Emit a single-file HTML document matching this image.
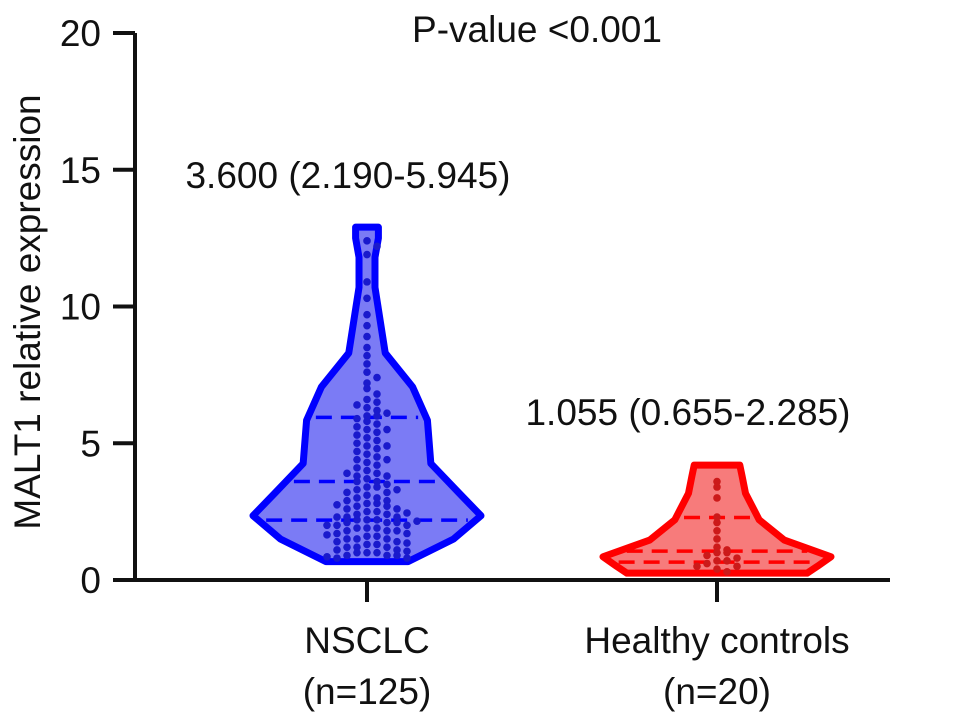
<!DOCTYPE html>
<html><head><meta charset="utf-8"><style>
body{margin:0;background:#fff}
svg text{font-family:"Liberation Sans",sans-serif;fill:#111}
</style></head><body>
<svg id="c" width="969" height="721" viewBox="0 0 969 721">
<g id="axes"></g><g id="plot"></g>
</svg>
<script>
const groups=["NSCLC","Healthy controls"];
const groupN=["(n=125)","(n=20)"];
const yTicks=[0,5,10,15,20];
const annotations=["3.600 (2.190-5.945)","1.055 (0.655-2.285)"];
const medians=[3.6,1.055];
const q1s=[2.19,0.655];
const q3s=[5.945,2.285];
// violin density profiles (value, relative half-width)
const blueLevels=[0.67,1.5,2.35,3.17,4.26,5.84,7.06,8.3,10.7,11.8,12.5,12.9];
const blueDensity=[0.36,0.76,1.0,0.81,0.56,0.53,0.40,0.16,0.07,0.07,0.10,0.10];
const redLevels=[0.25,0.5,0.85,1.46,2.2,3.17,3.8,4.2];
const redDensity=[0.79,0.88,1.0,0.59,0.37,0.25,0.22,0.20];
const blueValues=[12.4,12.2,11.9,10.9,10.3,9.7,9.3,8.9,8.5,8.2,7.9,7.6,7.4,7.2,7.0,6.8,6.6,6.5,6.3,6.2,6.0,6.0,5.9,5.8,5.7,5.6,5.5,5.4,5.3,5.2,5.1,5.0,4.9,4.8,4.7,4.6,4.5,4.4,4.3,4.2,4.1,4.0,3.9,3.8,3.8,3.7,3.6,3.6,3.5,3.4,3.4,3.3,3.2,3.2,3.1,3.0,3.0,2.9,2.9,2.8,2.8,2.7,2.7,2.6,2.6,2.5,2.5,2.4,2.4,2.3,2.3,2.3,2.2,2.2,2.2,2.1,2.1,2.1,2.0,2.0,2.0,1.9,1.9,1.9,1.8,1.8,1.8,1.7,1.7,1.6,1.6,1.5,1.5,1.5,1.4,1.4,1.3,1.3,1.2,1.2,1.2,1.1,1.1,1.0,1.0,1.0,0.9,0.9,0.9,0.8,0.8,6.1,6.4,5.5,4.9,4.4,3.9,3.3,2.75,2.45,2.15,1.65,1.35,1.05,0.85];
const redValues=[3.6,3.4,3.0,2.3,2.1,1.8,1.5,1.2,1.1,1.0,1.0,0.9,0.8,0.7,0.7,0.6,0.5,0.5,0.4,0.3];
const NS="http://www.w3.org/2000/svg";
const y=v=>580-v*27.35;
const xc=i=>[367,717][i];
const maxHalf=114;
const FS=37;
function mk(tag,attrs,parent,txt){const e=document.createElementNS(NS,tag);for(const k in attrs)e.setAttribute(k,attrs[k]);if(txt!==undefined)e.textContent=txt;parent.appendChild(e);return e;}
const ax=document.getElementById('axes'),pl=document.getElementById('plot');
const yl=mk('line',{x1:135,y1:33,x2:135,y2:582,stroke:'#111','stroke-width':4},ax);


const xl=mk('line',{x1:133,y1:580,x2:890,y2:580,stroke:'#111','stroke-width':4},ax);


yTicks.forEach(t=>{
 const l=mk('line',{x1:113,y1:y(t),x2:135,y2:y(t),stroke:'#111','stroke-width':4},ax);
 
 
 const tx=mk('text',{x:101,y:y(t)+13,'text-anchor':'end','font-size':FS},ax,String(t));
 
 
});
const yt=mk('text',{x:0,y:0,'text-anchor':'middle','font-size':FS,transform:'translate(40,312) rotate(-90)'},ax,'MALT1 relative expression');


const pv=mk('text',{x:537,y:42,'text-anchor':'middle','font-size':FS},ax,'P-value <0.001');


const styles=[{stroke:'#0000ff',fill:'#7b7bf5',dot:'#1a1acc'},{stroke:'#ff0000',fill:'#f77b7b',dot:'#cc1a1a'}];
const levels=[blueLevels,redLevels],dens=[blueDensity,redDensity],vals=[blueValues,redValues];
const annPos=[[348,188],[688,425]];
groups.forEach((g,i)=>{
 const L=levels[i],D=dens[i],cx=xc(i);
 const tk=mk('line',{x1:cx,y1:580,x2:cx,y2:602,stroke:'#111','stroke-width':4},ax);
 
 
 const gl=mk('text',{x:cx,y:653,'text-anchor':'middle','font-size':FS},ax,g);
 
 
 const nl=mk('text',{x:cx,y:704,'text-anchor':'middle','font-size':FS},ax,groupN[i]);
 
 
 let pts=L.map((v,k)=>[cx+D[k]*maxHalf,y(v)]);
 let left=L.map((v,k)=>[cx-D[k]*maxHalf,y(v)]).reverse();
 const all=pts.concat(left);
 const p=mk('polygon',{points:all.map(q=>q.join(',')).join(' '),fill:styles[i].fill,stroke:styles[i].stroke,'stroke-width':7,'stroke-linejoin':'round'},pl);
 
 
 const hw=v=>{for(let k=0;k<L.length-1;k++){if(v>=L[k]&&v<=L[k+1]){const f=(v-L[k])/(L[k+1]-L[k]);return (D[k]+f*(D[k+1]-D[k]))*maxHalf;}}return D[0]*maxHalf;};
 [[q1s[i],'quartile-q1'],[medians[i],'median-line'],[q3s[i],'quartile-q3']].forEach(([v,n])=>{
  const w=hw(v)-8;
  const ql=mk('line',{x1:cx-w,y1:y(v),x2:cx+w,y2:y(v),stroke:styles[i].stroke,'stroke-width':3.5,'stroke-dasharray':'16,9'},pl);
  
  
 });
 const bins={};
 vals[i].forEach(v=>{
  const b=Math.round(v/0.3);bins[b]=(bins[b]||0)+1;const k=bins[b]-1;
  const off=(k%2?1:-1)*Math.ceil(k/2)*10;
  const d=mk('circle',{cx:cx+off,cy:y(v),r:3.8,fill:styles[i].dot},pl);
  
  
 });
 const an=mk('text',{x:annPos[i][0],y:annPos[i][1],'text-anchor':'middle','font-size':FS},ax,annotations[i]);
 
 
});
</script>
</body></html>
